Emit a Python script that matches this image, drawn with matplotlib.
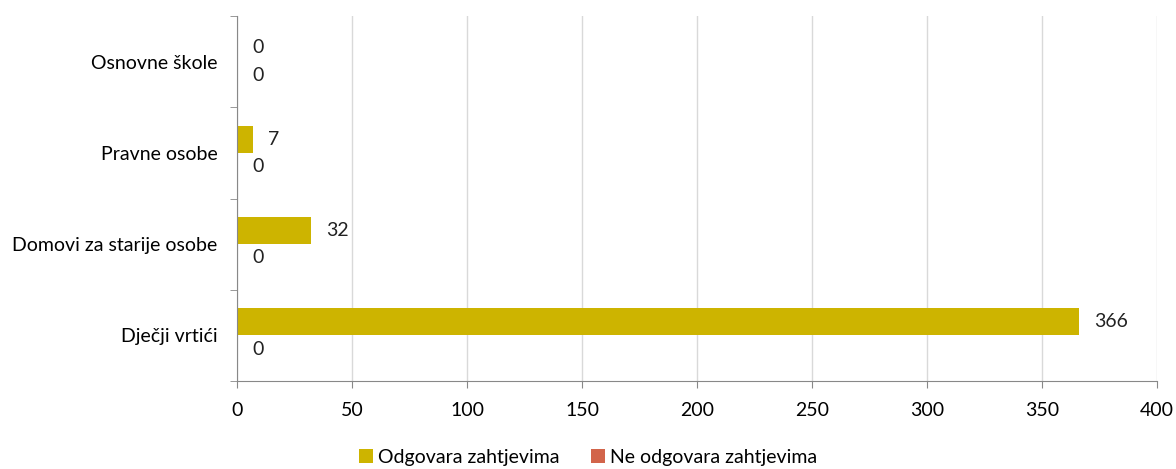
import matplotlib.pyplot as plt
import numpy as np

categories = ['Dječji vrtići', 'Domovi za starije osobe', 'Pravne osobe', 'Osnovne škole']
odgovara = [366, 32, 7, 0]
ne_odgovara = [0, 0, 0, 0]
series_names = ['Odgovara zahtjevima', 'Ne odgovara zahtjevima']
col_yes = '#CDB400'
col_no = '#D2644A'

plt.rcParams['font.family'] = ['Lato', 'DejaVu Sans']
plt.rcParams['font.size'] = 14

fig = plt.figure(figsize=(11.76, 4.69), dpi=100)
ax = fig.add_axes([237 / 1176, 1 - 381 / 469, 920 / 1176, 365 / 469])

y = np.arange(len(categories))
h = 0.3
b1 = ax.barh(y + h / 2, odgovara, height=h, color=col_yes, label=series_names[0])
b2 = ax.barh(y - h / 2, ne_odgovara, height=h, color=col_no, label=series_names[1])

for bars, vals in [(b1, odgovara), (b2, ne_odgovara)]:
    for rect, v in zip(bars, vals):
        ax.annotate(str(v), (rect.get_width(), rect.get_y() + rect.get_height() / 2),
                    xytext=(11, 0), textcoords='offset points', ha='left', va='center',
                    fontsize=14, color='#222222')

ax.set_xlim(0, 400)
ax.set_ylim(-0.5, len(categories) - 0.5)
ax.set_xticks(np.arange(0, 401, 50))
ax.set_yticks(y)
ax.set_yticklabels(categories)
ax.set_yticks(np.arange(-0.5, len(categories), 1), minor=True)
ax.tick_params(axis='y', which='major', length=0, pad=14)
ax.tick_params(axis='y', which='minor', length=5, color='#888888')
ax.tick_params(axis='x', length=5, color='#888888', pad=10)

ax.grid(axis='x', color='#D9D9D9', linewidth=1)
ax.set_axisbelow(True)
for s in ['top', 'right']:
    ax.spines[s].set_visible(False)
for s in ['left', 'bottom']:
    ax.spines[s].set_color('#888888')

fig.legend(handles=[b1, b2], loc='lower center', bbox_to_anchor=(0.5, -0.03), ncol=2,
           frameon=False, handlelength=0.75, handleheight=0.75, handletextpad=0.25,
           columnspacing=1.6, fontsize=14)

fig.savefig('out.png', dpi=100)
